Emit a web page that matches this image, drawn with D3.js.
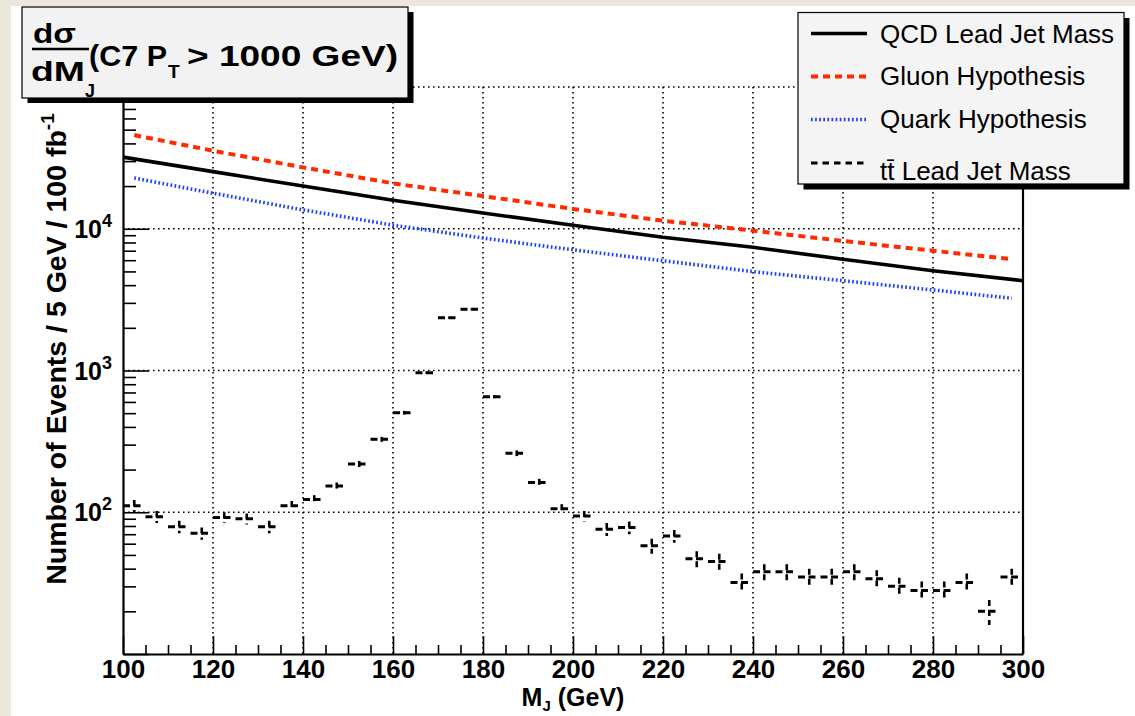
<!DOCTYPE html>
<html><head><meta charset="utf-8">
<script src="https://cdn.jsdelivr.net/npm/d3@7"></script>
<style>
html,body{margin:0;padding:0;background:#ebe7da;}
svg{display:block;}
text{font-family:"Liberation Sans",Arial,Helvetica,sans-serif;}
</style></head><body>
<svg id="chart" width="1135" height="716"></svg>
<script>
// ---- data ----
const qcdMass   = [100,120,140,160,180,200,220,240,260,280,300];
const qcdValues = [32000,25300,20000,15900,12900,10600,8700,7400,6100,5060,4300];

const hypMass     = [102.5,120,140,160,180,200,220,240,260,280,297.5];
const gluonValues = [45800,35500,27100,20900,17000,13800,11400,9700,8200,7000,6100];
const quarkValues = [22800,17800,13600,10600,8600,7100,5950,4980,4300,3700,3230];

const ttBinLow = [100,105,110,115,120,125,130,135,140,145,150,155,160,165,170,175,180,185,190,195,
                  200,205,210,215,220,225,230,235,240,245,250,255,260,265,270,275,280,285,290,295];
const ttValues = [111,93,79,71,92,90,79,111,123,153,219,327,504,965,2358,2702,654,261,162,106,
                  94,76,78,58,68,47,45,32,38,38,35,35,38,34,30,28,28,32,20,35];
const ttErrors = [11,9,8,7,8,8,8,9,9,9,11,13,15,20,30,32,17,12,10,8,
                  8,8,8,7,7,6,6,5,5,5,5,5,5,5,4.5,4.5,4.5,5,4,5];
const binWidth = 5;

const xMajorTicks = [100,120,140,160,180,200,220,240,260,280,300];
const xMinorTicks = d3.range(105,300,5).filter(v => v % 20 !== 0);
const yMajorTicks = [1e2,1e3,1e4];
const yTickExp = ["2","3","4"];
const yMinorTicks = [].concat(...[1,2,3,4].map(e => [2,3,4,5,6,7,8,9].map(m => m*Math.pow(10,e))));

const legendLabels = ["QCD Lead Jet Mass","Gluon Hypothesis","Quark Hypothesis","tt\u0304 Lead Jet Mass"];

// ---- layout ----
const svg = d3.select("#chart");
const L = 123, R = 1023, T = 87, B = 654;
const x = d3.scaleLinear().domain([100,300]).range([L,R]);
const y = d3.scaleLog().domain([10,1e5]).range([B,T]);

// pad
svg.append("rect").attr("x",11).attr("y",6).attr("width",1124).attr("height",710).attr("fill","#ffffff");

// grid
const grid = svg.append("g").attr("stroke","#000").attr("stroke-width",1.6).attr("stroke-dasharray","1.6,3.4");
grid.selectAll("line.gx").data(xMajorTicks.filter(d => d>100 && d<300)).join("line")
  .attr("x1",d=>x(d)).attr("x2",d=>x(d)).attr("y1",T).attr("y2",B);
grid.selectAll("line.gy").data([1e2,1e3,1e4,1e5]).join("line")
  .attr("x1",L).attr("x2",R).attr("y1",d=>y(d)).attr("y2",d=>y(d));

// lines
const qcdLine = d3.line().x((d,i)=>x(qcdMass[i])).y(d=>y(d));
svg.append("path").datum(qcdValues).attr("d",qcdLine).attr("fill","none")
  .attr("stroke","#000").attr("stroke-width",3.6);
const hypLine = d3.line().x((d,i)=>x(hypMass[i])).y(d=>y(d));
svg.append("path").datum(gluonValues).attr("d",hypLine).attr("fill","none")
  .attr("stroke","#ff2a00").attr("stroke-width",4).attr("stroke-dasharray","7,5");
svg.append("path").datum(quarkValues).attr("d",hypLine).attr("fill","none")
  .attr("stroke","#1f3fff").attr("stroke-width",3.6).attr("stroke-dasharray","1.7,2.4");

// ttbar histogram with errors
const tt = svg.append("g").attr("stroke","#000");
tt.selectAll("line.h").data(ttValues).join("line")
  .attr("x1",(d,i)=>x(ttBinLow[i])).attr("x2",(d,i)=>x(ttBinLow[i]+binWidth))
  .attr("y1",d=>y(d)).attr("y2",d=>y(d))
  .attr("stroke-width",3).attr("stroke-dasharray","7,3.5,7,5");
tt.selectAll("line.v").data(ttValues).join("line")
  .attr("x1",(d,i)=>x(ttBinLow[i]+binWidth/2)).attr("x2",(d,i)=>x(ttBinLow[i]+binWidth/2))
  .attr("y1",(d,i)=>y(d+ttErrors[i])).attr("y2",(d,i)=>y(Math.max(d-ttErrors[i],1)))
  .attr("stroke-width",2.6).attr("stroke-dasharray","6,4");

// axes
const ax = svg.append("g").attr("transform",`translate(0,${B})`)
  .call(d3.axisBottom(x).tickValues(xMajorTicks).tickSize(-18).tickSizeOuter(0).tickPadding(6).tickFormat(d3.format("d")));
ax.select(".domain").attr("stroke-width",2.2);
ax.selectAll(".tick line").attr("stroke-width",1.6);
ax.selectAll("text").attr("font-size",26).attr("font-weight","bold").attr("fill","#000")
  .attr("font-family",'"Liberation Sans",Arial,sans-serif');
const axm = svg.append("g").attr("transform",`translate(0,${B})`)
  .call(d3.axisBottom(x).tickValues(xMinorTicks).tickSize(-9).tickSizeOuter(0).tickFormat(""));
axm.select(".domain").remove();
axm.selectAll(".tick line").attr("stroke-width",1.6);

const ay = svg.append("g").attr("transform",`translate(${L},0)`)
  .call(d3.axisLeft(y).tickValues([1e1,1e2,1e3,1e4,1e5]).tickSize(-26).tickSizeOuter(0).tickFormat(""));
ay.select(".domain").attr("stroke-width",2.2);
ay.selectAll(".tick line").attr("stroke-width",1.6);
const aym = svg.append("g").attr("transform",`translate(${L},0)`)
  .call(d3.axisLeft(y).tickValues(yMinorTicks).tickSize(-13).tickSizeOuter(0).tickFormat(""));
aym.select(".domain").remove();
aym.selectAll(".tick line").attr("stroke-width",1.6);

// y tick labels with superscripts
const yl = svg.append("g");
yMajorTicks.forEach((v,i)=>{
  const t = yl.append("text").attr("x",L-11).attr("y",y(v)+9).attr("text-anchor","end")
    .attr("font-size",25).attr("font-weight","bold");
  t.append("tspan").text("10");
  t.append("tspan").attr("dy",-11).attr("font-size",18).text(yTickExp[i]);
});

// right frame
svg.append("line").attr("x1",R).attr("x2",R).attr("y1",T).attr("y2",B).attr("stroke","#000").attr("stroke-width",2.2);

// axis titles
const xt = svg.append("text").attr("x",x(200)).attr("y",706).attr("text-anchor","middle")
  .attr("font-size",25).attr("font-weight","bold");
xt.append("tspan").text("M");
xt.append("tspan").attr("dy",5).attr("font-size",15).text("J");
xt.append("tspan").attr("dy",-5).text(" (GeV)");

const yt = svg.append("text").attr("transform","translate(66,349) rotate(-90)").attr("text-anchor","middle")
  .attr("font-size",28.5).attr("font-weight","bold");
yt.append("tspan").text("Number of Events / 5 GeV / 100 fb");
yt.append("tspan").attr("dy",-12).attr("font-size",19).text("-1");

// title box
svg.append("rect").attr("x",27.5).attr("y",12).attr("width",386).attr("height",91).attr("fill","#000");
svg.append("rect").attr("x",22).attr("y",7).attr("width",386).attr("height",91)
  .attr("fill","#f2f2f2").attr("stroke","#000").attr("stroke-width",1.2);
const tg = svg.append("g").attr("font-weight","bold").attr("fill","#000");
tg.append("text").attr("x",33).attr("y",43).attr("font-size",27).attr("textLength",43).attr("lengthAdjust","spacingAndGlyphs").text("dσ");
tg.append("line").attr("x1",32).attr("x2",89).attr("y1",49).attr("y2",49).attr("stroke","#000").attr("stroke-width",2.4);
tg.append("text").attr("x",31).attr("y",81).attr("font-size",27).attr("textLength",54).attr("lengthAdjust","spacingAndGlyphs").text("dM");
tg.append("text").attr("x",85).attr("y",97).attr("font-size",18).text("J");
tg.append("text").attr("x",89).attr("y",66).attr("font-size",29).attr("textLength",78).attr("lengthAdjust","spacingAndGlyphs").text("(C7 P");
tg.append("text").attr("x",168).attr("y",78).attr("font-size",19).text("T");
tg.append("text").attr("x",187).attr("y",66).attr("font-size",29).attr("textLength",211).attr("lengthAdjust","spacingAndGlyphs").text("> 1000 GeV)");

// legend
svg.append("rect").attr("x",803.5).attr("y",18).attr("width",326).attr("height",171.5).attr("fill","#000");
svg.append("rect").attr("x",798).attr("y",12.5).attr("width",326).attr("height",171.5)
  .attr("fill","#f4f4f4").attr("stroke","#000").attr("stroke-width",1.2);
const legStyles = [
  {stroke:"#000", w:3.6, dash:null, y:33.5, ty:43},
  {stroke:"#ff2a00", w:4.2, dash:"7,5", y:76.5, ty:84.5},
  {stroke:"#1f3fff", w:3.6, dash:"1.7,2.4", y:119.5, ty:128},
  {stroke:"#000", w:2.8, dash:"6.5,5", y:163, ty:180}
];
legendLabels.forEach((lab,i)=>{
  const s = legStyles[i];
  svg.append("line").attr("x1",811).attr("x2",867).attr("y1",s.y).attr("y2",s.y)
    .attr("stroke",s.stroke).attr("stroke-width",s.w).attr("stroke-dasharray",s.dash);
  svg.append("text").attr("x",880).attr("y",s.ty).attr("font-size",26).attr("fill","#000").text(lab);
});
</script>
</body></html>
